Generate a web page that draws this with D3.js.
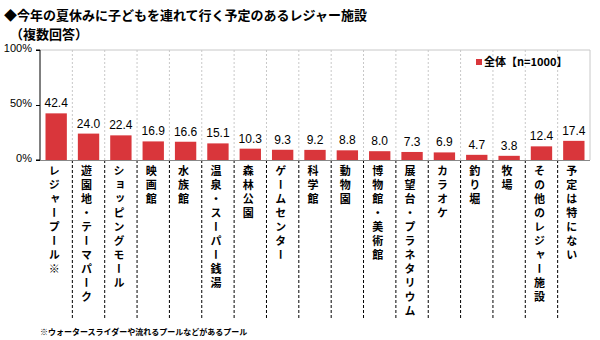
<!DOCTYPE html>
<html><head><meta charset="utf-8">
<script src="https://cdn.jsdelivr.net/npm/d3@7"></script>
<style>
body{margin:0;background:#fff;}
svg{display:block;font-family:"Noto Sans CJK JP","Noto Sans",sans-serif;}
</style></head>
<body><div id="chart"></div>
<script>
const categories = ["レジャープール※","遊園地・テーマパーク","ショッピングモール","映画館","水族館","温泉・スーパー銭湯","森林公園","ゲームセンター","科学館","動物園","博物館・美術館","展望台・プラネタリウム","カラオケ","釣り堀","牧場","その他のレジャー施設","予定は特にない"];
const values = [42.4,24.0,22.4,16.9,16.6,15.1,10.3,9.3,9.2,8.8,8.0,7.3,6.9,4.7,3.8,12.4,17.4];
const yTicks = [0,50,100];
const seriesName = "全体【n=1000】";
const title1 = "◆今年の夏休みに子どもを連れて行く予定のあるレジャー施設";
const title2 = "（複数回答）";
const footnote = "※ウォータースライダーや流れるプールなどがあるプール";

const W=600,H=340, L=40,R=590,T=50,B=160;
const red="#d9363b";
const svg=d3.select("#chart").append("svg").attr("width",W).attr("height",H);

svg.append("text").attr("x",4).attr("y",20).attr("font-size",13).attr("font-weight","bold").text(title1);
svg.append("text").attr("x",10).attr("y",39).attr("font-size",13).attr("font-weight","bold").text(title2);

const x=d3.scaleBand().domain(categories).range([L,R]).paddingInner(0.34).paddingOuter(0.17);
const y=d3.scaleLinear().domain([0,100]).range([B,T]);
const step=x.step();
const bounds=categories.slice(1).map(c=>x(c)-x.paddingInner()*step/2);

// frame
svg.append("line").attr("x1",L).attr("x2",R).attr("y1",T).attr("y2",T).attr("stroke","#c8c8c8");
svg.append("line").attr("x1",R).attr("x2",R).attr("y1",T).attr("y2",B).attr("stroke","#c8c8c8");
// inner grid
svg.selectAll("line.grid").data(bounds).join("line").attr("class","grid")
  .attr("x1",d=>d).attr("x2",d=>d).attr("y1",T).attr("y2",B)
  .attr("stroke","#c8c8c8").attr("stroke-dasharray","2,2");
// separators below
svg.selectAll("line.sep").data(bounds).join("line").attr("class","sep")
  .attr("x1",d=>d).attr("x2",d=>d).attr("y1",B).attr("y2",318)
  .attr("stroke","#000").attr("stroke-dasharray","3,2");

// bars
svg.selectAll("rect.bar").data(values).join("rect").attr("class","bar")
  .attr("x",(d,i)=>x(categories[i])).attr("width",x.bandwidth())
  .attr("y",d=>y(d)).attr("height",d=>B-y(d)).attr("fill",red);
svg.selectAll("text.val").data(values).join("text").attr("class","val")
  .attr("x",(d,i)=>x(categories[i])+x.bandwidth()/2).attr("y",d=>y(d)-6)
  .attr("text-anchor","middle").attr("font-size",12).attr("font-family","Arial, 'Liberation Sans', sans-serif")
  .text(d=>d.toFixed(1));

// y axis
const ya=svg.append("g").attr("transform",`translate(${L},0)`)
  .call(d3.axisLeft(y).tickValues(yTicks).tickFormat(d=>d+"%").tickSize(4));
ya.select(".domain").attr("stroke","#000").attr("d",`M-4,${T}H0V${B}H-4`);
ya.selectAll("text").attr("font-size",11).attr("font-family","Arial, 'Liberation Sans', sans-serif").attr("x",-8).attr("dy","0.1em").attr("fill","#000");
ya.selectAll("line").attr("stroke","#000");
// x axis line
svg.append("line").attr("x1",L).attr("x2",R).attr("y1",B+0.5).attr("y2",B+0.5).attr("stroke","#888");

// category labels vertical
svg.selectAll("text.cat").data(categories).join("text").attr("class","cat")
  .attr("x",d=>x(d)+x.bandwidth()/2-2).attr("y",165)
  .attr("font-size",11).attr("font-weight","bold")
  .style("writing-mode","vertical-rl").style("text-orientation","upright")
  .style("letter-spacing","3px")
  .text(d=>d);

// legend
svg.append("rect").attr("x",476).attr("y",59).attr("width",6).attr("height",6).attr("fill",red);
svg.append("text").attr("x",484).attr("y",66).attr("font-size",11).attr("font-weight","bold").text(seriesName);

// footnote
svg.append("text").attr("x",40).attr("y",335).attr("font-size",8).attr("font-weight","bold").text(footnote);
</script></body></html>
